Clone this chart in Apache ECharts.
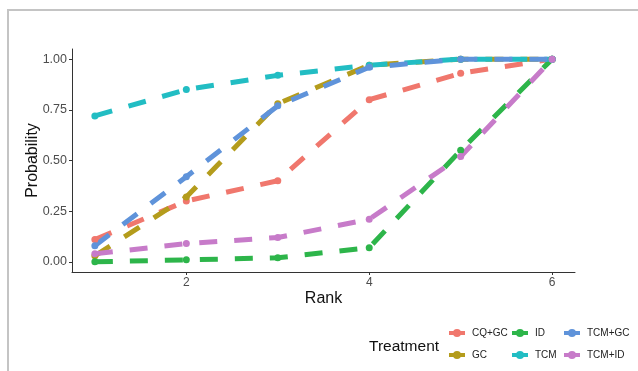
<!DOCTYPE html>
<html>
<head>
<meta charset="utf-8">
<script src="https://cdn.jsdelivr.net/npm/echarts@6/dist/echarts.min.js"></script>
<style>
  html, body { margin: 0; padding: 0; background: #fff; }
  #main { width: 638px; height: 371px; }
</style>
</head>
<body>
<div id="main"></div>
<script>
// rank axis
var ranks = [1, 2, 3, 4, 5, 6];
var xTicks = [2, 4, 6];
var yTicks = [0, 0.25, 0.5, 0.75, 1];

// cumulative probabilities per treatment
var names = ['CQ+GC', 'GC', 'ID', 'TCM', 'TCM+GC', 'TCM+ID'];
var cqgc  = [0.11, 0.30, 0.40, 0.80, 0.93, 1.00];
var gc    = [0.03, 0.32, 0.78, 0.97, 1.00, 1.00];
var id    = [0.00, 0.01, 0.02, 0.07, 0.55, 1.00];
var tcm   = [0.72, 0.85, 0.92, 0.97, 1.00, 1.00];
var tcmgc = [0.08, 0.42, 0.77, 0.96, 1.00, 1.00];
var tcmid = [0.04, 0.09, 0.12, 0.21, 0.52, 1.00];

var values = [cqgc, gc, id, tcm, tcmgc, tcmid];
var colors = ['#F0776D', '#B49C1C', '#2DB54A', '#22BDC3', '#5F93DA', '#C77BC9'];

var chart = echarts.init(document.getElementById('main'), null, { renderer: 'canvas' });

var series = names.map(function (n, i) {
    return {
        name: n,
        type: 'line',
        data: ranks.map(function (r, j) { return [r, values[i][j]]; }),
        symbol: 'circle',
        symbolSize: 7,
        showSymbol: true,
        lineStyle: { width: 5, type: [18, 17], cap: 'butt', color: colors[i] },
        itemStyle: { color: colors[i] },
        emphasis: { disabled: true },
        animation: false
    };
});

var font = 'Liberation Sans, Arial, sans-serif';

// ggplot fills the legend column by column, so one small legend per column
function legendBlock(left, items) {
    return {
        left: left,
        top: 326,
        padding: 0,
        orient: 'vertical',
        itemWidth: 16,
        itemHeight: 10,
        itemGap: 8,
        data: items,
        lineStyle: { width: 4, type: 'solid' },
        textStyle: { fontSize: 10, lineHeight: 14, color: '#222', fontFamily: font, padding: [0, 0, 0, 2] }
    };
}

option = {
    backgroundColor: '#fff',
    color: colors,
    grid: { left: 72, right: 63, top: 49, bottom: 99 },
    xAxis: {
        type: 'value',
        min: 0.75,
        max: 6.25,
        name: 'Rank',
        nameLocation: 'middle',
        nameGap: 19,
        nameMoveOverlap: false,
        nameTextStyle: { fontSize: 16, color: '#111', fontFamily: font },
        splitLine: { show: false },
        axisLine: { onZero: false, lineStyle: { color: '#333', width: 1 } },
        axisTick: { show: true, length: 3, customValues: xTicks, lineStyle: { color: '#333' } },
        axisLabel: { customValues: xTicks, fontSize: 12, color: '#4d4d4d', margin: 5, fontFamily: font }
    },
    yAxis: {
        type: 'value',
        min: -0.05,
        max: 1.05,
        name: 'Probability',
        nameLocation: 'middle',
        nameGap: 31,
        nameMoveOverlap: false,
        nameTextStyle: { fontSize: 16, color: '#111', fontFamily: font },
        splitLine: { show: false },
        axisLine: { show: true, onZero: false, lineStyle: { color: '#333', width: 1 } },
        axisTick: { show: true, length: 3, customValues: yTicks, lineStyle: { color: '#333' } },
        axisLabel: {
            customValues: yTicks, fontSize: 12.5, color: '#4d4d4d', margin: 5, fontFamily: font,
            formatter: function (v) { return v.toFixed(2); }
        }
    },
    legend: [
        legendBlock(447, ['CQ+GC', 'GC']),
        legendBlock(510, ['ID', 'TCM']),
        legendBlock(562, ['TCM+GC', 'TCM+ID'])
    ],
    graphic: [
        {
            type: 'rect',
            shape: { x: 8, y: 10, width: 660, height: 400 },
            style: { fill: 'none', stroke: '#c4c4c4', lineWidth: 2 },
            silent: true
        },
        {
            type: 'text',
            left: 369,
            top: 339,
            style: { text: 'Treatment', fontSize: 15.5, fill: '#111', fontFamily: font }
        }
    ],
    series: series
};

chart.setOption(option);
</script>
</body>
</html>
